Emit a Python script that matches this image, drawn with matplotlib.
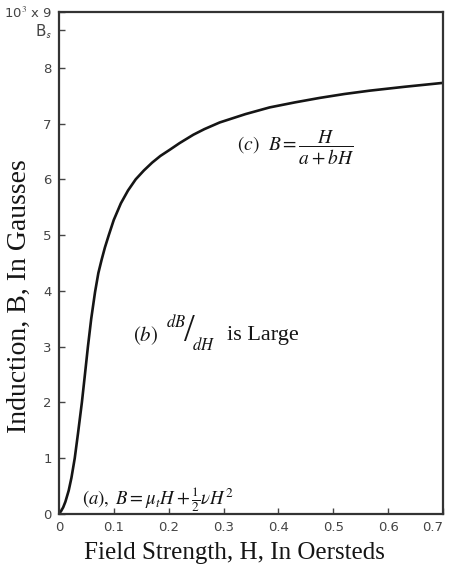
import matplotlib
matplotlib.use("Agg")
from matplotlib import pyplot as plt

# B-H magnetisation curve
field_h = [0, 0.004, 0.008, 0.012, 0.018, 0.023, 0.029, 0.035, 0.042, 0.047,
           0.053, 0.059, 0.066, 0.072, 0.078, 0.084, 0.091, 0.100, 0.113,
           0.126, 0.140, 0.155, 0.17, 0.185, 0.202, 0.22, 0.245, 0.265,
           0.293, 0.34, 0.384, 0.43, 0.475, 0.52, 0.566, 0.63, 0.70]
induction_b = [0, 0.05, 0.12, 0.22, 0.42, 0.65, 1.0, 1.45, 2.0, 2.45,
               3.0, 3.5, 3.98, 4.32, 4.56, 4.78, 5.0, 5.27, 5.57,
               5.8, 6.0, 6.16, 6.3, 6.42, 6.53, 6.65, 6.8, 6.9,
               7.02, 7.17, 7.29, 7.38, 7.46, 7.53, 7.59, 7.66, 7.73]

x_ticks = [0, 0.1, 0.2, 0.3, 0.4, 0.5, 0.6, 0.7]
x_tick_labels = ["0", "0.1", "0.2", "0.3", "0.4", "0.5", "0.6", "0.7"]
y_ticks = [0, 1, 2, 3, 4, 5, 6, 7, 8, 8.68, 9]
y_tick_labels = ["0", "1", "2", "3", "4", "5", "6", "7", "8", "B$_\\mathsf{s}$",
                 "10$^3$ x 9"]

plt.rcParams["mathtext.fontset"] = "stix"
serif = ["Liberation Serif", "DejaVu Serif"]
ink = "#151515"

fig = plt.figure(figsize=(4.49, 5.73), dpi=100)
ax = fig.add_axes([0.131, 0.103, 0.856, 0.876])

ax.plot(field_h, induction_b, color=ink, lw=1.9, solid_capstyle="round",
        solid_joinstyle="round")

ax.set_xlim(0, 0.7)
ax.set_ylim(0, 9)
ax.set_xticks(x_ticks)
ax.set_xticklabels(x_tick_labels)
ax.set_yticks(y_ticks)
ax.set_yticklabels(y_tick_labels)
ax.tick_params(direction="in", length=4, width=1, colors="#444444",
               labelsize=9.5, pad=5)
ax.get_xticklabels()[-1].set_horizontalalignment("right")
ax.get_yticklabels()[-2].set_fontsize(11)
for side in ax.spines.values():
    side.set_linewidth(1.6)
    side.set_color("#333333")

ax.set_xlabel("Field Strength, H, In Oersteds", family=serif, fontsize=18,
              color=ink, labelpad=5)
ax.xaxis.set_label_coords(0.458, -0.055)
fig.text(19 / 449, 1 - 296 / 573, "Induction, B, In Gausses", family=serif,
         fontsize=20, color=ink, rotation=90, ha="center", va="center")

# region annotations
ax.text(0.042, 0.25, r"$(a),\ B=\mu_t H+\frac{1}{2}\nu H^2$", fontsize=13.5,
        color=ink, va="center")

ax.text(0.135, 3.2, r"$(b)$", fontsize=15, color=ink, va="center")
ax.text(0.195, 3.45, r"$dB$", fontsize=12, color=ink, va="center")
ax.text(0.238, 3.27, "/", family=serif, fontsize=28, color=ink,
        va="center", ha="center")
ax.text(0.243, 3.03, r"$dH$", fontsize=12, color=ink, va="center")
ax.text(0.306, 3.2, "is Large", family=serif, fontsize=16, color=ink,
        va="center")

ax.text(0.324, 6.57, r"$(c)\ \ B=\dfrac{H}{a+bH}$", fontsize=14,
        color=ink, va="center")

fig.savefig("out.png", dpi=100)
